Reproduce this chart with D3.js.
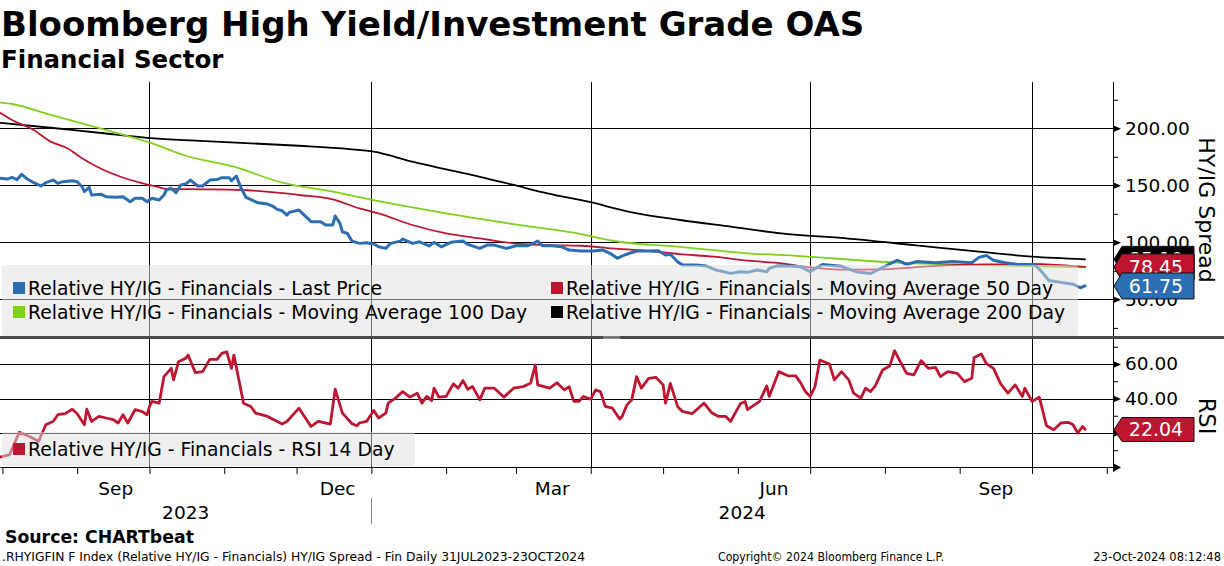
<!DOCTYPE html>
<html>
<head>
<meta charset="utf-8">
<script src="https://cdn.jsdelivr.net/npm/d3@7"></script>
<style>
  body { margin: 0; background: #fff; }
  svg { display: block; }
  text { font-family: "DejaVu Sans", sans-serif; }
</style>
</head>
<body>
<svg id="chart" width="1224" height="566"></svg>
<script>
// Relative HY/IG - Financials, last price
const lastPrice = [
  ["2023-07-31",156.1],["2023-08-03",155.5],["2023-08-05",157],["2023-08-07",155],["2023-08-09",159.6],
  ["2023-08-11",156],["2023-08-14",152.3],["2023-08-17",149.4],["2023-08-19",152.3],["2023-08-22",154.6],
  ["2023-08-24",151.7],["2023-08-26",153.2],["2023-08-30",154],["2023-09-01",153.2],["2023-09-03",148.8],
  ["2023-09-04",144.4],["2023-09-06",148.2],["2023-09-07",141.5],["2023-09-11",142.1],["2023-09-13",140],
  ["2023-09-17",139.5],["2023-09-20",140],["2023-09-23",135.6],["2023-09-25",138.6],["2023-09-28",138.6],
  ["2023-09-30",135.6],["2023-10-02",138.6],["2023-10-05",137.1],["2023-10-07",141.5],["2023-10-08",145.9],
  ["2023-10-10",147.4],["2023-10-12",143.5],["2023-10-14",150.3],["2023-10-16",151.1],["2023-10-18",154.6],
  ["2023-10-21",149.4],["2023-10-23",149.4],["2023-10-26",154.6],["2023-10-29",155],["2023-10-31",156.7],
  ["2023-11-03",156.7],["2023-11-04",154],["2023-11-06",158.2],["2023-11-08",147.4],["2023-11-10",139.5],
  ["2023-11-13",136.5],["2023-11-15",134.7],["2023-11-19",133.6],["2023-11-21",131.8],["2023-11-23",128.9],
  ["2023-11-25",127.7],["2023-11-27",123.9],["2023-11-28",126.3],["2023-12-02",128.3],["2023-12-07",118.1],
  ["2023-12-11",118.1],["2023-12-13",115.2],["2023-12-16",115.2],["2023-12-17",123.1],["2023-12-19",116.7],
  ["2023-12-20",109.3],["2023-12-22",107.9],["2023-12-24",101.1],["2023-12-27",99.1],["2023-12-30",99.6],
  ["2024-01-02",98.5],["2024-01-04",96.1],["2024-01-07",94.7],["2024-01-09",99.1],["2024-01-13",101.1],
  ["2024-01-14",102.9],["2024-01-18",99.1],["2024-01-21",100.5],["2024-01-25",96.8],["2024-01-27",100],
  ["2024-01-30",96.1],["2024-02-03",100],["2024-02-08",101.1],["2024-02-10",98.2],["2024-02-15",94.7],
  ["2024-02-18",97.6],["2024-02-21",97.6],["2024-02-26",94.7],["2024-03-01",97],["2024-03-06",97],
  ["2024-03-10",101.1],["2024-03-12",97],["2024-03-16",97],["2024-03-20",96.1],["2024-03-23",93.2],
  ["2024-03-28",92.4],["2024-04-02",92.4],["2024-04-06",93.2],["2024-04-09",90.4],["2024-04-12",86],
  ["2024-04-15",88.9],["2024-04-20",92.4],["2024-04-24",92.4],["2024-04-29",92.6],["2024-05-02",88.9],
  ["2024-05-04",89.5],["2024-05-07",83],["2024-05-09",80.1],["2024-05-15",80.1],["2024-05-19",79.2],
  ["2024-05-23",75.7],["2024-05-29",72.8],["2024-06-02",74.2],["2024-06-05",73.7],["2024-06-09",75.7],
  ["2024-06-13",74.2],["2024-06-14",77.2],["2024-06-17",79.2],["2024-06-23",79.2],["2024-06-27",78.5],
  ["2024-07-01",74.3],["2024-07-06",80.6],["2024-07-14",79],["2024-07-20",74.3],["2024-07-26",72.7],
  ["2024-08-01",79],["2024-08-06",84.3],["2024-08-10",80.6],["2024-08-14",83.1],["2024-08-22",82.1],
  ["2024-08-29",83.1],["2024-09-06",82.1],["2024-09-09",86.8],["2024-09-12",88.4],["2024-09-15",84.3],
  ["2024-09-20",82.1],["2024-09-25",80.6],["2024-10-02",80.6],["2024-10-05",74.3],["2024-10-08",66.5],
  ["2024-10-13",64.9],["2024-10-18",63.3],["2024-10-21",60.2],["2024-10-23",61.75]
]

const ma50 = [
  ["2023-07-31",213.7],["2023-08-05",207.3],["2023-08-14",198.5],["2023-08-21",188.3],["2023-08-28",182.5],
  ["2023-09-03",173.7],["2023-09-12",163.4],["2023-09-19",157.5],["2023-09-27",152.3],["2023-10-04",148.8],
  ["2023-10-08",146.8],["2023-10-22",146.5],["2023-11-08",145.9],["2023-12-02",141.5],["2023-12-16",137.7],
  ["2023-12-27",129.8],["2024-01-04",125.4],["2024-01-18",115.2],["2024-02-01",107.9],["2024-02-15",103.5],
  ["2024-02-29",99.1],["2024-03-14",97.6],["2024-03-28",97],["2024-04-10",94.7],["2024-04-24",92.6],
  ["2024-05-08",89.7],["2024-05-22",87.4],["2024-06-05",83.9],["2024-06-19",81.6],["2024-07-01",78],
  ["2024-07-16",76],["2024-07-30",76.3],["2024-08-14",78.3],["2024-08-29",80],["2024-09-13",80.7],
  ["2024-09-28",81],["2024-10-13",80],["2024-10-23",78.45]
]

const ma100 = [
  ["2023-07-31",222.5],["2023-08-05",221.3],["2023-08-21",211.7],["2023-09-03",204.4],["2023-09-18",195.6],
  ["2023-10-03",186.2],["2023-10-15",176.6],["2023-11-05",166.3],["2023-11-25",152.3],["2023-12-16",144.4],
  ["2024-01-03",136.5],["2024-02-01",125.4],["2024-02-29",116],["2024-03-28",107.3],["2024-04-10",101.4],
  ["2024-05-08",96.1],["2024-06-05",90.4],["2024-06-27",88],["2024-07-30",83],["2024-09-09",80.1],
  ["2024-10-23",78]
]

const ma200 = [
  ["2023-07-31",204.9],["2023-08-21",200.5],["2023-09-10",196.1],["2023-10-03",191.2],["2023-10-22",188.9],
  ["2023-11-12",186.8],["2023-12-02",184.7],["2023-12-23",181.8],["2024-01-02",179.5],["2024-01-18",170.7],
  ["2024-02-01",164],["2024-02-15",157.5],["2024-02-29",150.3],["2024-03-14",143],["2024-03-31",135.6],
  ["2024-04-17",126.8],["2024-05-08",119.6],["2024-05-29",113.7],["2024-06-19",107.9],["2024-07-16",103.5],
  ["2024-08-13",97.6],["2024-09-09",91.8],["2024-10-01",87.4],["2024-10-23",85.1]
]

const rsi14 = [
  ["2023-07-31",6],["2023-08-04",7.5],["2023-08-08",20.4],["2023-08-12",18.1],["2023-08-16",15.2],
  ["2023-08-19",24.8],["2023-08-22",26.7],["2023-08-24",30.6],["2023-08-27",31.2],["2023-08-30",33.8],
  ["2023-09-01",31.2],["2023-09-04",24.8],["2023-09-05",33.8],["2023-09-07",26.7],["2023-09-10",29.6],
  ["2023-09-13",28.7],["2023-09-16",27.7],["2023-09-18",25.8],["2023-09-20",30.6],["2023-09-22",25.8],
  ["2023-09-25",33.5],["2023-09-28",32.4],["2023-09-30",30.6],["2023-10-01",35.4],["2023-10-02",38.3],
  ["2023-10-05",37.3],["2023-10-07",52.7],["2023-10-10",57.5],["2023-10-11",50.8],["2023-10-13",61.3],
  ["2023-10-16",63.3],["2023-10-17",65.2],["2023-10-20",55],["2023-10-23",55.6],["2023-10-26",62.7],
  ["2023-10-29",62.7],["2023-10-31",66.2],["2023-11-02",67.1],["2023-11-04",57.5],["2023-11-05",65.2],
  ["2023-11-09",37.3],["2023-11-12",35.4],["2023-11-14",31.5],["2023-11-19",29.6],["2023-11-21",28.1],
  ["2023-11-25",25.2],["2023-11-27",26.7],["2023-12-02",34.4],["2023-12-07",23.8],["2023-12-10",26.7],
  ["2023-12-15",25.2],["2023-12-17",45.4],["2023-12-20",31.5],["2023-12-24",25.4],["2023-12-26",24.2],
  ["2023-12-27",25.8],["2023-12-30",26.7],["2024-01-02",33.1],["2024-01-04",28.7],["2024-01-07",31.5],
  ["2024-01-08",37.3],["2024-01-11",40.2],["2024-01-14",44],["2024-01-17",40.8],["2024-01-20",43.1],
  ["2024-01-22",37.3],["2024-01-24",41.2],["2024-01-26",38.8],["2024-01-27",46],["2024-01-29",40.8],
  ["2024-02-01",41.2],["2024-02-04",48.5],["2024-02-06",46],["2024-02-08",50.4],["2024-02-10",45.4],
  ["2024-02-12",46.9],["2024-02-15",39.2],["2024-02-17",46],["2024-02-21",46],["2024-02-25",40.8],
  ["2024-02-29",46],["2024-03-04",46.9],["2024-03-07",48.8],["2024-03-09",59.4],["2024-03-10",47.9],
  ["2024-03-15",46],["2024-03-18",49.2],["2024-03-21",45],["2024-03-23",46.9],["2024-03-25",38.3],
  ["2024-03-27",38.3],["2024-03-29",41.2],["2024-04-01",39.6],["2024-04-03",45],["2024-04-05",44],
  ["2024-04-07",35.4],["2024-04-10",34.4],["2024-04-13",28.1],["2024-04-14",29.6],["2024-04-16",36.3],
  ["2024-04-18",39.2],["2024-04-20",52.7],["2024-04-22",46],["2024-04-25",51.7],["2024-04-28",52.3],
  ["2024-05-01",47.9],["2024-05-02",37.3],["2024-05-04",48.8],["2024-05-07",35.4],["2024-05-09",32.5],
  ["2024-05-13",31.2],["2024-05-18",37.3],["2024-05-21",31.9],["2024-05-24",29.6],["2024-05-27",29.6],
  ["2024-05-29",26.7],["2024-06-02",36.9],["2024-06-04",38.3],["2024-06-05",33.5],["2024-06-10",38.3],
  ["2024-06-13",47.3],["2024-06-14",41.2],["2024-06-18",55.6],["2024-06-22",53.1],["2024-06-25",53.1],
  ["2024-06-27",49.2],["2024-06-29",44],["2024-07-01",41.2],["2024-07-03",46.9],["2024-07-05",62.3],
  ["2024-07-09",60],["2024-07-11",50.8],["2024-07-14",55.6],["2024-07-17",50.8],["2024-07-19",43.1],
  ["2024-07-22",40.2],["2024-07-24",46],["2024-07-26",44],["2024-07-28",47.3],["2024-07-31",56.5],
  ["2024-08-03",58.8],["2024-08-05",67.7],["2024-08-07",62.3],["2024-08-10",54.6],["2024-08-13",53.7],
  ["2024-08-16",61.9],["2024-08-19",57.5],["2024-08-22",58.1],["2024-08-24",52.7],["2024-08-27",55.6],
  ["2024-08-31",54.6],["2024-09-03",49.8],["2024-09-06",51.7],["2024-09-07",63.8],["2024-09-10",65.8],
  ["2024-09-12",60.4],["2024-09-15",57.5],["2024-09-18",48.5],["2024-09-21",43.1],["2024-09-24",47.9],
  ["2024-09-27",41.2],["2024-09-28",46],["2024-10-01",38.3],["2024-10-04",40.8],["2024-10-07",24.2],
  ["2024-10-10",21.9],["2024-10-13",25.8],["2024-10-16",26.2],["2024-10-18",24.8],["2024-10-20",20],
  ["2024-10-22",23.8],["2024-10-23",22.04]
]

// axis values / labels
const spreadMajor = [50, 100, 150, 200]
const spreadMinor = [25, 75, 125, 175, 225]
const rsiMajor = [20, 40, 60]
const rsiMinor = [10, 30, 50, 70]
const quarterLines = ["2023-10-01", "2024-01-01", "2024-04-01", "2024-07-01", "2024-10-01"]
const monthLabels = ["2023-09-17", "2023-12-18", "2024-03-16", "2024-06-16", "2024-09-16"]
const yearLabels = ["2023", "2024"]

const topLegend = [
  "Relative HY/IG - Financials - Last Price",
  "Relative HY/IG - Financials - Moving Average 50 Day",
  "Relative HY/IG - Financials - Moving Average 100 Day",
  "Relative HY/IG - Financials - Moving Average 200 Day"
]
const rsiLegend = "Relative HY/IG - Financials - RSI 14 Day"

const colors = { blue: "#2d6db2", red: "#be1530", green: "#7fd11b", black: "#000000" }

const parse = d3.timeParse("%Y-%m-%d")
const toPts = arr => arr.map(([d, v]) => ({ date: parse(d), value: v }))

const svg = d3.select("#chart")
const W = 1224, plotRight = 1113

const x = d3.scaleTime()
  .domain([new Date(2023, 6, 31), new Date(2024, 10, 3, 14)])
  .range([0, plotRight])
const y = d3.scaleLinear().domain([17, 240.6]).range([337, 82])
const yR = d3.scaleLinear().domain([0, 74.5]).range([467.5, 339])

svg.append("rect").attr("width", W).attr("height", 566).attr("fill", "#fff")

// titles
svg.append("text").attr("x", 1).attr("y", 36)
  .attr("font-size", 34).attr("font-weight", "bold")
  .text("Bloomberg High Yield/Investment Grade OAS")
svg.append("text").attr("x", 1).attr("y", 68)
  .attr("font-size", 24.5).attr("font-weight", "bold")
  .text("Financial Sector")

// grid
const grid = svg.append("g").attr("stroke", "#000").attr("stroke-width", 1).attr("shape-rendering", "crispEdges")
grid.selectAll(".hs").data(spreadMajor).join("line")
  .attr("x1", 0).attr("x2", plotRight).attr("y1", d => Math.round(y(d)) + 0.5).attr("y2", d => Math.round(y(d)) + 0.5)
grid.selectAll(".hr").data(rsiMajor).join("line")
  .attr("x1", 0).attr("x2", plotRight).attr("y1", d => Math.round(yR(d)) + 0.5).attr("y2", d => Math.round(yR(d)) + 0.5)
grid.selectAll(".vq").data(quarterLines).join("line")
  .attr("x1", d => Math.round(x(parse(d))) + 0.5).attr("x2", d => Math.round(x(parse(d))) + 0.5)
  .attr("y1", 82).attr("y2", 467)

// clip regions
const defs = svg.append("defs")
defs.append("clipPath").attr("id", "clipTop").append("rect").attr("x", 0).attr("y", 82).attr("width", plotRight).attr("height", 254)
defs.append("clipPath").attr("id", "clipBot").append("rect").attr("x", 0).attr("y", 339).attr("width", plotRight).attr("height", 128)

const lineTop = d3.line().x(d => x(d.date)).y(d => y(d.value))
const smoothTop = d3.line().x(d => x(d.date)).y(d => y(d.value)).curve(d3.curveMonotoneX)
const lineRsi = d3.line().x(d => x(d.date)).y(d => yR(d.value))

const topG = svg.append("g").attr("clip-path", "url(#clipTop)").attr("fill", "none")
  .attr("stroke-linejoin", "round").attr("stroke-linecap", "round")
topG.append("path").attr("d", smoothTop(toPts(ma200))).attr("stroke", colors.black).attr("stroke-width", 1.8)
topG.append("path").attr("d", smoothTop(toPts(ma100))).attr("stroke", colors.green).attr("stroke-width", 1.8)
topG.append("path").attr("d", smoothTop(toPts(ma50))).attr("stroke", colors.red).attr("stroke-width", 1.8)
topG.append("path").attr("d", lineTop(toPts(lastPrice))).attr("stroke", colors.blue).attr("stroke-width", 3)

const botG = svg.append("g").attr("clip-path", "url(#clipBot)").attr("fill", "none")
  .attr("stroke-linejoin", "round").attr("stroke-linecap", "round")
botG.append("path").attr("d", lineRsi(toPts(rsi14))).attr("stroke", colors.red).attr("stroke-width", 2.8)

// legends (semi transparent like the terminal)
const legendColors = [colors.blue, colors.red, colors.green, colors.black]
svg.append("rect").attr("x", 2).attr("y", 265).attr("width", 1076).attr("height", 71).attr("rx", 3)
  .attr("fill", "#e0e0e0").attr("opacity", 0.5)
const lg = svg.append("g").selectAll("g").data(topLegend).join("g")
  .attr("transform", (d, i) => `translate(${i % 2 ? 551 : 13},${i < 2 ? 282 : 306})`)
lg.append("rect").attr("width", 12).attr("height", 12).attr("fill", (d, i) => legendColors[i])
lg.append("text").attr("x", 15).attr("y", 13).attr("font-size", 18.8).attr("fill", "#000").text(d => d)

svg.append("rect").attr("x", 2).attr("y", 432).attr("width", 413).attr("height", 34).attr("rx", 3)
  .attr("fill", "#e0e0e0").attr("opacity", 0.5)
const rl = svg.append("g").attr("transform", "translate(13,443)")
rl.append("rect").attr("width", 12).attr("height", 12).attr("fill", colors.red)
rl.append("text").attr("x", 15).attr("y", 13).attr("font-size", 18.8).text(rsiLegend)

// panel separator
svg.append("rect").attr("x", 0).attr("y", 336).attr("width", W).attr("height", 3).attr("fill", "#4a4a4a")
svg.append("g").attr("stroke", "#b0b0b0").attr("stroke-width", 0.8)
  .selectAll("line").data([336.8, 338.4]).join("line")
  .attr("x1", 603).attr("x2", 620).attr("y1", d => d).attr("y2", d => d)

// right axes
function rightAxis(scale, major, minor, top, bottom) {
  const g = svg.append("g").attr("transform", `translate(${plotRight},0)`)
  g.append("line").attr("x1", 0.5).attr("x2", 0.5).attr("y1", top).attr("y2", bottom)
    .attr("stroke", "#000").attr("shape-rendering", "crispEdges")
  const ax = d3.axisRight(scale).tickValues(major).tickSize(0).tickPadding(12).tickFormat(d3.format(".2f"))
  const a = g.append("g").call(ax)
  a.select(".domain").remove()
  a.selectAll("text").attr("font-size", 18.5).attr("font-family", "DejaVu Sans").attr("fill", "#000")
  a.selectAll(".tick").append("path").attr("d", "M0,-3.5L8,0L0,3.5Z").attr("fill", "#000")
  const mi = g.append("g").call(d3.axisRight(scale).tickValues(minor).tickSize(5).tickFormat(""))
  mi.select(".domain").remove()
  mi.selectAll("line").attr("stroke", "#000")
}
rightAxis(y, spreadMajor, spreadMinor, 82, 336)
rightAxis(yR, rsiMajor, rsiMinor, 339, 468)

svg.append("text").attr("transform", "translate(1199,210) rotate(90)")
  .attr("text-anchor", "middle").attr("font-size", 22).text("HY/IG Spread")
svg.append("text").attr("transform", "translate(1199,416) rotate(90)")
  .attr("text-anchor", "middle").attr("font-size", 22.5).text("RSI")

// bottom time axis
const xAx = svg.append("g").attr("transform", "translate(0,467)")
  .call(d3.axisBottom(x).ticks(d3.timeMonth.every(1)).tickSize(7).tickSizeOuter(0).tickFormat(""))
xAx.select(".domain").attr("stroke", "#000")
xAx.selectAll("line").attr("stroke", "#000")
svg.append("path").attr("d", `M${plotRight},463L${plotRight + 8},467.5L${plotRight},472Z`).attr("fill", "#000")

svg.append("g").selectAll("text").data(monthLabels).join("text")
  .attr("x", d => x(parse(d))).attr("y", 495).attr("text-anchor", "middle").attr("font-size", 18.5)
  .text(d => d3.timeFormat("%b")(parse(d)))

const yearStart = x(parse("2024-01-01"))
svg.append("g").selectAll("text").data(yearLabels).join("text")
  .attr("x", (d, i) => i === 0 ? yearStart / 2 : (yearStart + plotRight) / 2)
  .attr("y", 519).attr("text-anchor", "middle").attr("font-size", 18.5).text(d => d)
svg.append("line").attr("x1", Math.round(yearStart) + 0.5).attr("x2", Math.round(yearStart) + 0.5)
  .attr("y1", 498).attr("y2", 524).attr("stroke", "#888")

// value tags on the right
function tag(v, scale, color, h) {
  const cy = scale(v)
  const g = svg.append("g")
  g.append("path")
    .attr("d", `M${plotRight + 1},${cy}L${plotRight + 9},${cy - h / 2}L1194,${cy - h / 2}L1194,${cy + h / 2}L${plotRight + 9},${cy + h / 2}Z`)
    .attr("fill", color).attr("stroke", "#111").attr("stroke-width", 1)
  g.append("text").attr("x", 1156).attr("y", cy + 7).attr("text-anchor", "middle")
    .attr("font-size", 19).attr("fill", "#fff").text(d3.format(".2f")(v))
}
const lastOf = arr => arr[arr.length - 1][1]
tag(lastOf(ma100), y, colors.green, 26)
tag(lastOf(ma200), y, colors.black, 26)
tag(lastOf(ma50), y, colors.red, 26)
tag(lastOf(lastPrice), y, colors.blue, 26)
tag(lastOf(rsi14), yR, colors.red, 24)

// footer
svg.append("text").attr("x", 5).attr("y", 543).attr("font-size", 17.3).attr("font-weight", "bold")
  .text("Source: CHARTbeat")
svg.append("text").attr("x", 2).attr("y", 561).attr("font-size", 11.5)
  .attr("textLength", 583).attr("lengthAdjust", "spacingAndGlyphs")
  .text(".RHYIGFIN F Index (Relative HY/IG - Financials) HY/IG Spread - Fin  Daily 31JUL2023-23OCT2024")
svg.append("text").attr("x", 718).attr("y", 561).attr("font-size", 11.5)
  .attr("textLength", 226).attr("lengthAdjust", "spacingAndGlyphs")
  .text("Copyright\u00a9 2024 Bloomberg Finance L.P.")
svg.append("text").attr("x", 1221).attr("y", 561).attr("font-size", 11.5).attr("text-anchor", "end")
  .text("23-Oct-2024 08:12:48")
</script>
</body>
</html>
